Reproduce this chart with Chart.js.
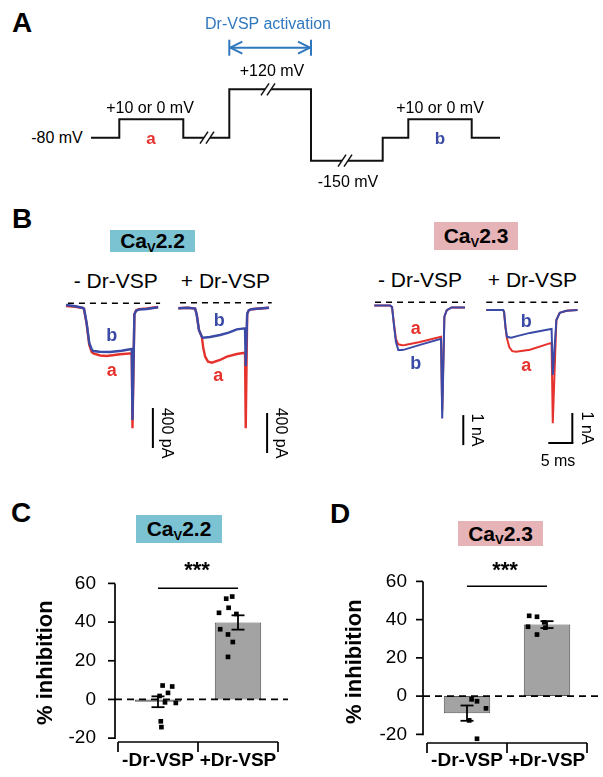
<!DOCTYPE html>
<html><head><meta charset="utf-8">
<script src="https://cdn.jsdelivr.net/npm/chart.js@4.4.1/dist/chart.umd.min.js"></script>
<style>
body{margin:0;background:#fff;width:603px;height:777px;position:relative;overflow:hidden;font-family:"Liberation Sans",Arial,sans-serif;color:#000;}
canvas{position:absolute;}
.t{position:absolute;white-space:nowrap;line-height:1;}
.box{position:absolute;display:flex;align-items:center;justify-content:center;font-weight:bold;font-size:21px;white-space:nowrap;}
.box span{font-size:13px;position:relative;top:6px;}
</style></head><body>
<script>
// ---------------- DATA ----------------
// Panel A: voltage protocol (schematic time units, command voltage in mV)
const protoSeg1T = [0, 28.3, 28.3, 92.3, 92.3, 113];
const protoSeg1V = [-80, -80, 10, 10, -80, -80];
const protoSeg2T = [119, 138.3, 138.3, 174];
const protoSeg2V = [-80, -80, 120, 120];
const protoSeg3T = [180, 220, 220, 251];
const protoSeg3V = [120, 120, -150, -150];
const protoSeg4T = [257, 291.7, 291.7, 317.3, 317.3, 380.7, 380.7, 409];
const protoSeg4V = [-150, -150, -80, -80, 10, 10, -80, -80];
const protoBreakT = [116, 177, 254];
const protoBreakV = [-80, 120, -150];

// Panel B: current traces (time in ms; CaV2.2 in pA, CaV2.3 in nA)
const cav22CtrlT_b = [0, 2, 3.5, 3.75, 4.3, 4.85, 5.35, 5.7, 7, 9.2, 11.6, 13.7, 13.85, 14.25, 14.6, 15.2, 16.8, 19.2];
const cav22CtrlI_b = [-17, -30, -47, -52, -197, -397, -460, -477, -485, -487, -474, -457, -1167, -110, -75, -62, -57, -40];
const cav22CtrlT_a = [0, 2, 3.5, 3.75, 4.3, 4.85, 5.35, 5.7, 7.1, 8.5, 11.25, 13.7, 13.85, 14.25, 14.6, 15.2, 16.8, 19.2];
const cav22CtrlI_a = [-27, -35, -47, -57, -207, -417, -487, -500, -522, -527, -510, -500, -1250, -110, -72, -58, -52, -37];

const cav22VspT_b = [0, 2, 3.5, 3.85, 4.3, 4.9, 5.2, 6.6, 8.7, 10.5, 12.2, 13.9, 14.05, 14.35, 14.7, 15.3, 16.3, 18.9];
const cav22VspI_b = [-56, -50, -58, -123, -273, -340, -350, -343, -323, -300, -266, -256, -633, -110, -75, -65, -60, -50];
const cav22VspT_a = [0, 2, 3.5, 3.85, 4.3, 4.9, 5.2, 5.6, 6.2, 7.0, 8.7, 10.1, 12.2, 13.9, 14.05, 14.35, 14.7, 15.3, 16.3, 18.9];
const cav22VspI_a = [-56, -50, -58, -123, -273, -340, -450, -540, -590, -600, -573, -540, -513, -500, -1256, -110, -75, -65, -60, -50];

const cav23CtrlT_b = [0, 3.3, 3.7, 4.1, 4.5, 5.0, 5.8, 6.4, 9.5, 13.9, 14.15, 14.6, 15.1, 16.1, 18.9];
const cav23CtrlI_b = [-0.11, -0.11, -0.16, -0.76, -1.32, -1.59, -1.59, -1.57, -1.42, -1.22, -3.87, -0.48, -0.26, -0.17, -0.17];
const cav23CtrlT_a = [0, 3.3, 3.7, 4.1, 4.5, 5.0, 5.8, 6.4, 9.5, 13.9, 14.15, 14.6, 15.1, 16.1, 18.9];
const cav23CtrlI_a = [-0.11, -0.11, -0.16, -0.73, -1.22, -1.40, -1.43, -1.42, -1.32, -1.15, -3.6, -0.48, -0.26, -0.17, -0.17];

const cav23VspT_b = [0, 3.5, 3.7, 4.0, 4.3, 5.2, 6.6, 9.1, 13.2, 13.6, 13.85, 14.6, 15.3, 16.7, 19.0];
const cav23VspI_b = [-0.26, -0.26, -0.32, -0.82, -1.15, -1.18, -1.12, -1.02, -0.90, -0.89, -2.42, -0.59, -0.35, -0.28, -0.26];
const cav23VspT_a = [0, 3.5, 3.7, 4.0, 4.3, 4.8, 5.4, 6.2, 9.1, 13.2, 13.6, 13.85, 14.6, 15.3, 16.7, 19.0];
const cav23VspI_a = [-0.26, -0.26, -0.32, -0.85, -1.2, -1.5, -1.63, -1.65, -1.58, -1.37, -1.36, -4.03, -0.59, -0.35, -0.28, -0.26];

// Panels C, D: % inhibition
const groups = ['-Dr-VSP', '+Dr-VSP'];
const yTicks = [-20, 0, 20, 40, 60];
const cav22Mean = [-1.2, 39.8];
const cav22Sem = [2.8, 3.7];
const cav22CtrlPts = [7.2, 6.7, 1.8, 3.4, -1.5, -1.8, -11.3, -14.3];
const cav22CtrlJit = [-0.09, 0.07, -0.14, 0.0, -0.05, 0.13, -0.12, -0.11];
const cav22VspPts = [52.1, 53.2, 47.4, 44.8, 44.2, 36.3, 33.6, 29.7, 22.0];
const cav22VspJit = [-0.03, 0.07, 0.01, -0.15, 0.14, -0.13, 0.0, 0.08, 0.0];
const cav23Mean = [-8.9, 37.4];
const cav23Sem = [4.0, 1.8];
const cav23CtrlPts = [-1.7, -2.7, -6.4, -12.7, -22.3];
const cav23CtrlJit = [-0.09, 0.0, 0.15, -0.13, 0.0];
const cav23VspPts = [42.0, 41.5, 36.3, 38.6, 35.8, 32.2];
const cav23VspJit = [-0.13, 0.0, -0.15, 0.12, 0.14, 0.0];

// ---------------- STYLE / LAYOUT ----------------
const FF = "'Liberation Sans', Arial, sans-serif";
const RED = '#e5322d', BLUE = '#3a4aa6', ARROW = '#2f78be';
Chart.defaults.font.family = FF;

function mkCanvas(left, top, w, h) {
  const c = document.createElement('canvas');
  c.width = w; c.height = h;
  c.style.left = left + 'px'; c.style.top = top + 'px';
  c.style.width = w + 'px'; c.style.height = h + 'px';
  document.body.appendChild(c);
  return c;
}
function T(html, x, y, size, opt) {
  opt = opt || {};
  const d = document.createElement('div');
  d.className = 't';
  d.innerHTML = html;
  d.style.left = x + 'px'; d.style.top = y + 'px';
  d.style.fontSize = size + 'px';
  if (opt.bold) d.style.fontWeight = 'bold';
  if (opt.color) d.style.color = opt.color;
  d.style.transform = 'translate(-50%,-50%)' + (opt.rot ? ' rotate(90deg)' : '');
  document.body.appendChild(d);
}
function BOX(html, x, y, w, h, bg) {
  const d = document.createElement('div');
  d.className = 'box';
  d.innerHTML = html;
  Object.assign(d.style, {left: x + 'px', top: y + 'px', width: w + 'px', height: h + 'px', background: bg});
  document.body.appendChild(d);
}
function line(ctx, x1, y1, x2, y2) { ctx.beginPath(); ctx.moveTo(x1, y1); ctx.lineTo(x2, y2); ctx.stroke(); }
const baseOpts = {responsive: false, animation: false, devicePixelRatio: 1,
  plugins: {legend: {display: false}, tooltip: {enabled: false}}};

// ---------------- PANEL A ----------------
const levelHeight = {'-80': 0, '10': 18.4, '120': 48.4, '-150': -23}; // schematic drawing heights
(function () {
  const L = 85, Tp = 30, W = 425, H = 150, x0 = 91, y0 = 137.7;
  const c = mkCanvas(L, Tp, W, H);
  const pts = [];
  [[protoSeg1T, protoSeg1V], [protoSeg2T, protoSeg2V], [protoSeg3T, protoSeg3V], [protoSeg4T, protoSeg4V]].forEach((s, k) => {
    if (k) pts.push({x: s[0][0] - 3, y: null});
    s[0].forEach((t, i) => pts.push({x: t, y: levelHeight[String(s[1][i])]}));
  });
  new Chart(c, {
    type: 'line',
    data: {datasets: [{data: pts, borderColor: '#111', borderWidth: 2, pointRadius: 0, tension: 0, spanGaps: false}]},
    options: Object.assign({}, baseOpts, {layout: {padding: 0},
      scales: {x: {type: 'linear', display: false, min: L - x0, max: L + W - x0},
               y: {display: false, min: y0 - Tp - H, max: y0 - Tp}}}),
    plugins: [{id: 'deco', afterDatasetsDraw(ch) {
      const {ctx, scales: {x, y}} = ch;
      ctx.save();
      ctx.strokeStyle = '#111'; ctx.lineWidth = 1.5;
      protoBreakT.forEach((t, i) => {
        const cx = x.getPixelForValue(t), cy = y.getPixelForValue(levelHeight[String(protoBreakV[i])]);
        [-3, 3].forEach(d => line(ctx, cx + d - 4, cy + 6, cx + d + 4, cy - 6));
      });
      // Dr-VSP activation arrow spans the +120 mV step
      const ax1 = x.getPixelForValue(protoSeg2T[1]), ax2 = x.getPixelForValue(protoSeg3T[1]);
      const ay = 47.7 - Tp;
      ctx.strokeStyle = ARROW; ctx.lineWidth = 2;
      line(ctx, ax1, ay, ax2, ay);
      line(ctx, ax1, ay - 8, ax1, ay + 8);
      line(ctx, ax2, ay - 8, ax2, ay + 8);
      line(ctx, ax1 + 1, ay, ax1 + 13, ay - 6); line(ctx, ax1 + 1, ay, ax1 + 13, ay + 6);
      line(ctx, ax2 - 1, ay, ax2 - 13, ay - 6); line(ctx, ax2 - 1, ay, ax2 - 13, ay + 6);
      ctx.restore();
    }}]
  });
})();
T('A', 22, 23, 28, {bold: true});
T('Dr-VSP activation', 268, 24, 16, {color: ARROW});
T('+120 mV', 272, 71, 16);
T('+10 or 0 mV', 150, 108, 16);
T('+10 or 0 mV', 440, 108, 16);
T('-80 mV', 57, 138, 16);
T('-150 mV', 348, 182, 16);
T('a', 151, 138, 17, {bold: true, color: RED});
T('b', 440, 138, 17, {bold: true, color: BLUE});

// ---------------- PANEL B ----------------
function traceChart(g, series) {
  const c = mkCanvas(g.left, g.top, g.w, g.h);
  const ds = series.map(s => ({data: s.t.map((t, i) => ({x: t, y: s.i[i]})), borderColor: s.color,
    borderWidth: s.lw, pointRadius: 0, tension: 0, order: s.order, clip: false}));
  new Chart(c, {
    type: 'line', data: {datasets: ds},
    options: Object.assign({}, baseOpts, {layout: {padding: 0},
      scales: {x: {type: 'linear', display: false, min: (g.left - g.x0) / g.pxPerMs, max: (g.left + g.w - g.x0) / g.pxPerMs},
               y: {display: false, min: (g.y0 - g.top - g.h) * g.unitPerPx, max: (g.y0 - g.top) * g.unitPerPx}}}),
    plugins: [{id: 'deco', beforeDatasetsDraw(ch) {
      const {ctx, scales: {x, y}} = ch;
      ctx.save(); ctx.strokeStyle = '#000'; ctx.lineWidth = 1.6; ctx.setLineDash([6, 5]);
      line(ctx, x.getPixelForValue(g.dash[0]), y.getPixelForValue(0), x.getPixelForValue(g.dash[1]), y.getPixelForValue(0));
      ctx.setLineDash([]); ctx.lineWidth = 2;
      const bx = x.getPixelForValue(g.bar.t), by1 = y.getPixelForValue(g.bar.from), by2 = y.getPixelForValue(g.bar.from - g.bar.len);
      line(ctx, bx, by1, bx, by2);
      if (g.bar.ms) line(ctx, x.getPixelForValue(g.bar.t - g.bar.ms), by2, bx + 1, by2);
      ctx.restore();
    }}]
  });
}
traceChart({left: 58, top: 292, w: 104, h: 165, x0: 66, y0: 303.3, pxPerMs: 4.8, unitPerPx: 10,
  dash: [0.4, 19.6], bar: {t: 18.1, from: -1047, len: 400}},
  [{t: cav22CtrlT_b, i: cav22CtrlI_b, color: BLUE, lw: 2.4, order: 0},
   {t: cav22CtrlT_a, i: cav22CtrlI_a, color: RED, lw: 2.4, order: 1}]);
traceChart({left: 172, top: 292, w: 106, h: 165, x0: 178.3, y0: 302.7, pxPerMs: 4.8, unitPerPx: 10,
  dash: [0.35, 19.46], bar: {t: 18.5, from: -1103, len: 400}},
  [{t: cav22VspT_b, i: cav22VspI_b, color: BLUE, lw: 2.4, order: 0},
   {t: cav22VspT_a, i: cav22VspI_a, color: RED, lw: 2.4, order: 1}]);
traceChart({left: 366, top: 292, w: 104, h: 160, x0: 374.3, y0: 302.3, pxPerMs: 4.8, unitPerPx: 1 / 30,
  dash: [0.15, 18.9], bar: {t: 18.54, from: -3.76, len: 1}},
  [{t: cav23CtrlT_b, i: cav23CtrlI_b, color: BLUE, lw: 2, order: 0},
   {t: cav23CtrlT_a, i: cav23CtrlI_a, color: RED, lw: 2, order: 1}]);
traceChart({left: 478, top: 292, w: 112, h: 160, x0: 486.3, y0: 302.3, pxPerMs: 4.8, unitPerPx: 1 / 30,
  dash: [0, 19.1], bar: {t: 17.92, from: -3.69, len: 1, ms: 5}},
  [{t: cav23VspT_b, i: cav23VspI_b, color: BLUE, lw: 2, order: 0},
   {t: cav23VspT_a, i: cav23VspI_a, color: RED, lw: 2, order: 1}]);

T('B', 22, 219, 28, {bold: true});
BOX('Ca<span>V</span>2.2', 110, 230, 85, 22, '#7bc3d3');
BOX('Ca<span>V</span>2.3', 434, 222, 84, 28, '#e6b3b6');
T('- Dr-VSP', 115.7, 280, 21); T('+ Dr-VSP', 225.5, 280, 21);
T('- Dr-VSP', 420, 279, 21); T('+ Dr-VSP', 532.5, 279, 21);
T('b', 111.7, 335, 18, {bold: true, color: BLUE}); T('a', 111.7, 370, 18, {bold: true, color: RED});
T('b', 219.3, 320, 18, {bold: true, color: BLUE}); T('a', 218.3, 375, 18, {bold: true, color: RED});
T('a', 415.7, 328.3, 18, {bold: true, color: RED}); T('b', 415.7, 363.3, 18, {bold: true, color: BLUE});
T('b', 526.3, 320.7, 18, {bold: true, color: BLUE}); T('a', 526.3, 365, 18, {bold: true, color: RED});
T('400 pA', 167, 433, 16, {rot: true}); T('400 pA', 281, 433, 16, {rot: true});
T('1 nA', 477, 430, 16, {rot: true}); T('1 nA', 587, 428, 16, {rot: true});
T('5 ms', 558, 461, 16);

// ---------------- PANELS C & D ----------------
function barPanel(o) {
  const c = mkCanvas(o.left, o.top, o.w, o.h);
  const pts = [];
  o.pts.forEach((arr, g) => arr.forEach((v, i) => pts.push({x: g + 1 + o.jit[g][i], y: v})));
  new Chart(c, {
    type: 'bar',
    data: {labels: groups, datasets: [
      {type: 'scatter', xAxisID: 'x2', data: pts, pointStyle: 'rect', pointRadius: 3.3, backgroundColor: '#000', borderColor: '#000', borderWidth: 0, order: 0, clip: false},
      {type: 'bar', data: o.mean, grouped: false, backgroundColor: '#a3a3a3', borderColor: '#555', borderWidth: 1, borderSkipped: false, barPercentage: 0.58, categoryPercentage: 1, order: 1}
    ]},
    options: Object.assign({}, baseOpts, {
      layout: {padding: {top: o.padTop, right: o.padRight, left: 0, bottom: 0}},
      scales: {
        x: {type: 'category', offset: true, grid: {display: false, drawTicks: false}, border: {display: false},
            ticks: {font: {size: 19, weight: 'bold'}, color: '#000', padding: o.xPad, maxRotation: 0, minRotation: 0, autoSkip: false},
            afterFit: s => { s.height = o.xH; }},
        x2: {type: 'linear', display: false, min: 0.5, max: 2.5},
        y: {min: o.ymin, max: yTicks[yTicks.length - 1], grid: {display: false, drawTicks: false}, border: {display: false},
            afterBuildTicks: s => { s.ticks = yTicks.map(v => ({value: v})); },
            ticks: {font: {size: 19}, color: '#000', padding: o.yPad},
            title: {display: true, text: '% inhibition', font: {size: 22, weight: 'bold'}, color: '#000', padding: {top: o.titlePad, bottom: 0}},
            afterFit: s => { s.width = o.yW; }}
      }}),
    plugins: [{id: 'deco', afterDatasetsDraw(ch) {
      const {ctx, chartArea: a, scales: {x, y}} = ch;
      ctx.save(); ctx.strokeStyle = '#000'; ctx.lineWidth = 1.7;
      const ax = a.left - o.axGap;
      line(ctx, ax, y.getPixelForValue(yTicks[yTicks.length - 1]), ax, y.getPixelForValue(yTicks[0]) + 0.8);
      yTicks.forEach(v => { const py = y.getPixelForValue(v); line(ctx, ax - 7, py, ax, py); });
      const bY = a.bottom + o.xGap;
      line(ctx, a.left, bY, a.right, bY);
      [a.left, (a.left + a.right) / 2, a.right].forEach(px => line(ctx, px, bY, px, bY + 10));
      // error bars (mean +/- SEM)
      ctx.lineWidth = 1.8;
      o.mean.forEach((m, g) => {
        const cx = x.getPixelForValue(g), t = y.getPixelForValue(m + o.sem[g]), b = y.getPixelForValue(m - o.sem[g]);
        line(ctx, cx, t, cx, b); line(ctx, cx - 6.5, t, cx + 6.5, t); line(ctx, cx - 6.5, b, cx + 6.5, b);
      });
      // zero line
      ctx.setLineDash([7, 5]); ctx.lineWidth = 1.8;
      const y0 = y.getPixelForValue(0);
      line(ctx, ax, y0, a.right + o.dashExt, y0);
      ctx.setLineDash([]); ctx.lineWidth = 1.5;
      const sy = y.getPixelForValue(o.sigY);
      line(ctx, x.getPixelForValue(0), sy, x.getPixelForValue(1), sy);
      ctx.restore();
    }}]
  });
}
barPanel({left: 0, top: 550, w: 300, h: 227, padTop: 25, padRight: 22, ymin: -22, xH: 35, yW: 118, xPad: 7, yPad: 22, titlePad: 33,
  axGap: 3, xGap: 0, dashExt: 10, sigY: 57.5,
  mean: cav22Mean, sem: cav22Sem, pts: [cav22CtrlPts, cav22VspPts], jit: [cav22CtrlJit, cav22VspJit]});
barPanel({left: 300, top: 550, w: 303, h: 227, padTop: 25, padRight: 16, ymin: -24, xH: 35, yW: 127, xPad: 7, yPad: 20, titlePad: 42,
  axGap: 4, xGap: 1, dashExt: 16, sigY: 57.5,
  mean: cav23Mean, sem: cav23Sem, pts: [cav23CtrlPts, cav23VspPts], jit: [cav23CtrlJit, cav23VspJit]});

T('C', 21, 513, 28, {bold: true});
T('D', 340, 514, 28, {bold: true});
BOX('Ca<span>V</span>2.2', 136, 515, 86, 28, '#7bc3d3');
BOX('Ca<span>V</span>2.3', 458, 521, 85, 25, '#e6b3b6');
T('***', 197, 570, 22, {bold: true});
T('***', 505, 570, 22, {bold: true});
</script>
</body></html>
